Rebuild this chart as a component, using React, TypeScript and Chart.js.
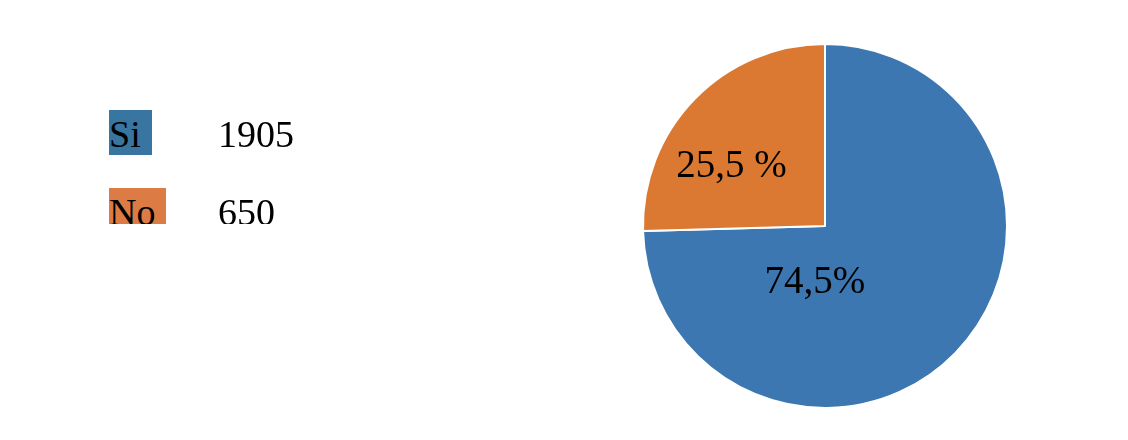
import React, { useEffect, useRef } from "react";
import { Chart, registerables } from "chart.js";

Chart.register(...registerables);

const categories = ["Si", "No"];
const values = [1905, 650];
const percentLabels = ["74,5%", "25,5 %"];
const sliceColors = ["#3C77B1", "#DB7831"];
const legendColors = ["#3875A0", "#DD7B45"];

const FONT = '"Liberation Serif", "Times New Roman", serif';

// label placement per slice, as fractions of the radius from the centre
const LABEL_OFFSETS = [
  { dx: -0.055, dy: 0.37 },
  { dx: -0.514, dy: -0.27 },
];

const sliceLabelPlugin = {
  id: "sliceLabels",
  afterDatasetsDraw(chart: any) {
    const meta = chart.getDatasetMeta(0);
    const ctx = chart.ctx;
    ctx.save();
    ctx.font = `39px ${FONT}`;
    ctx.fillStyle = "#000";
    ctx.textAlign = "center";
    ctx.textBaseline = "alphabetic";
    meta.data.forEach((arc: any, i: number) => {
      const r = arc.outerRadius;
      const o = LABEL_OFFSETS[i];
      ctx.fillText(percentLabels[i], arc.x + o.dx * r, arc.y + o.dy * r);
    });
    ctx.restore();
  },
};

export default function App() {
  const ref = useRef<HTMLCanvasElement | null>(null);

  useEffect(() => {
    if (!ref.current) return;
    const chart = new Chart(ref.current, {
      type: "pie",
      data: {
        labels: categories,
        datasets: [
          {
            data: values,
            backgroundColor: sliceColors,
            borderColor: "#ffffff",
            borderWidth: 2,
          },
        ],
      },
      options: {
        responsive: false,
        animation: false,
        layout: { padding: { left: 642, right: 120, top: 43, bottom: 31 } },
        plugins: {
          legend: { display: false },
          tooltip: { enabled: false },
        },
      },
      plugins: [sliceLabelPlugin],
    });
    return () => chart.destroy();
  }, []);

  const rowTops = [110, 188];
  const rowHeights = [45, 36];

  return (
    <div
      style={{
        position: "fixed",
        left: 0,
        top: 0,
        width: 1128,
        height: 440,
        background: "#fff",
        overflow: "hidden",
      }}
    >
      <canvas ref={ref} width={1128} height={440} style={{ position: "absolute", left: 0, top: 0 }} />
      {categories.map((c, i) => (
        <div
          key={c}
          style={{
            position: "absolute",
            left: 109,
            top: rowTops[i],
            height: rowHeights[i],
            overflow: "hidden",
            fontFamily: FONT,
            fontSize: 38,
            lineHeight: "49px",
            color: "#000",
            whiteSpace: "nowrap",
            width: 300,
          }}
        >
          <span
            style={{
              display: "inline-block",
              background: legendColors[i],
              height: 45,
              paddingRight: 11,
              verticalAlign: "top",
            }}
          >
            {c}
          </span>
          <span style={{ position: "absolute", left: 109, top: 0 }}>{values[i]}</span>
        </div>
      ))}
    </div>
  );
}
